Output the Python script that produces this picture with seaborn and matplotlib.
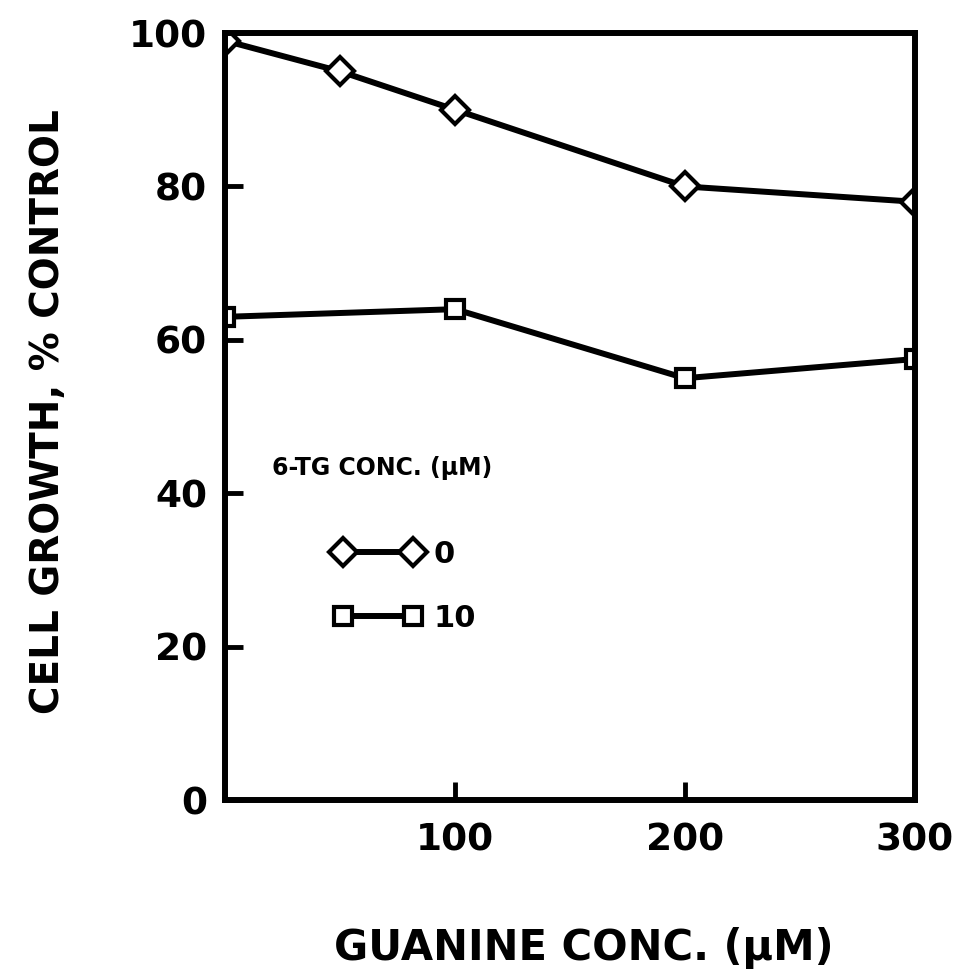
import matplotlib
matplotlib.use("Agg")
import matplotlib.pyplot as plt
import seaborn as sns
import pandas as pd

guanine_conc = [0, 50, 100, 200, 300]
growth_tg0 = [99, 95, 90, 80, 78]
guanine_conc_10 = [0, 100, 200, 300]
growth_tg10 = [63, 64, 55, 57.5]
x_ticks = [100, 200, 300]
y_ticks = [0, 20, 40, 60, 80, 100]

sns.set_theme(style="white")
plt.rcParams['font.family'] = ['DejaVu Sans']
plt.rcParams['font.weight'] = 'bold'
plt.rcParams['text.color'] = 'black'
plt.rcParams['axes.labelcolor'] = 'black'
plt.rcParams['xtick.direction'] = 'in'
plt.rcParams['ytick.direction'] = 'in'

fig = plt.figure(figsize=(9.62, 9.71), dpi=100)
ax = fig.add_axes([0.234, 0.176, 0.717, 0.790])

df0 = pd.DataFrame({"x": guanine_conc, "y": growth_tg0})
df10 = pd.DataFrame({"x": guanine_conc_10, "y": growth_tg10})

common = dict(color="black", linewidth=4.3, markerfacecolor="white",
              markeredgecolor="black", markeredgewidth=3.0)
sns.lineplot(data=df0, x="x", y="y", ax=ax, marker="D", markersize=14,
             label="0", **common)
sns.lineplot(data=df10, x="x", y="y", ax=ax, marker="s", markersize=13,
             label="10", **common)

ax.set_xlim(0, 300)
ax.set_ylim(0, 100)
ax.set_xticks(x_ticks)
ax.set_yticks(y_ticks)
ax.tick_params(axis="both", direction="in", length=13, width=3.5,
               colors="black", labelsize=27, bottom=True, left=True)
ax.tick_params(axis="y", pad=13)
ax.tick_params(axis="x", pad=16)
for lab in ax.get_xticklabels() + ax.get_yticklabels():
    lab.set_fontweight("bold")

for sp in ax.spines.values():
    sp.set_visible(True)
    sp.set_linewidth(4.3)
    sp.set_color("black")

ax.set_xlabel("GUANINE CONC. (\u03bcM)", fontsize=30, fontweight="bold", color="black")
ax.set_ylabel("CELL GROWTH, % CONTROL", fontsize=28, fontweight="bold", color="black")
ax.xaxis.set_label_coords(0.52, -0.165)
ax.yaxis.set_label_coords(-0.229, 0.506)

ax.text(0.068, 0.433, "6-TG CONC. (\u03bcM)", transform=ax.transAxes,
        fontsize=17, fontweight="heavy", va="center", ha="left", color="black")

leg = ax.legend(loc="upper left", bbox_to_anchor=(0.118, 0.375), frameon=False,
                numpoints=2, handlelength=2.9, handletextpad=0.35,
                labelspacing=1.15, fontsize=22)
for t in leg.get_texts():
    t.set_fontweight("bold")
    t.set_color("black")

fig.savefig("out.png", dpi=100, facecolor="white")
